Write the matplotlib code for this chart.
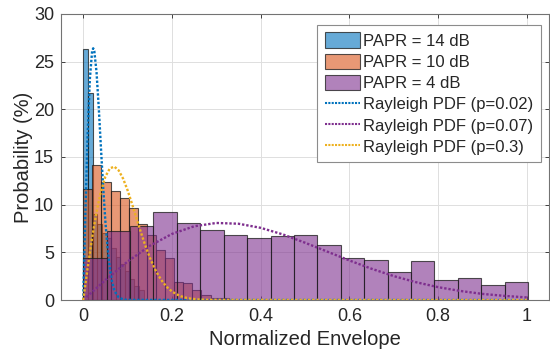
import numpy as np
import matplotlib
matplotlib.use("Agg")
import matplotlib.pyplot as plt
from matplotlib.patches import Patch
from matplotlib.lines import Line2D

plt.rcParams['font.family'] = ['Liberation Sans', 'DejaVu Sans']

# ---------------- data ----------------
# PAPR = 14 dB histogram (bin width ~0.0105, starts at 0)
blue_start, blue_width = 0.0, 0.0105
blue_vals = [26.3, 21.7, 9.0, 8.0, 7.0, 6.5, 5.5, 4.5, 3.8, 3.0, 2.2, 1.5, 1.0]

# PAPR = 10 dB histogram (bin width ~0.0205)
orange_start, orange_width = 0.0, 0.0205
orange_vals = [11.6, 14.2, 12.4, 11.4, 10.7, 9.6, 8.0, 6.8, 5.2, 4.4,
               1.9, 1.75, 1.05, 0.5, 0.25, 0.25]

# PAPR = 4 dB histogram (19 bins over 0..1.003)
purple_start, purple_width = 0.0, 0.0528
purple_vals = [4.4, 7.2, 7.8, 9.27, 8.05, 7.35, 6.82, 6.54, 6.75, 6.82,
               5.77, 4.37, 4.2, 2.9, 4.09, 2.1, 2.27, 1.57, 1.92]

# Rayleigh PDF curves
c1_x = [0, 0.005, 0.01, 0.015, 0.02, 0.0225, 0.025, 0.03, 0.035, 0.04, 0.045,
        0.05, 0.055, 0.06, 0.065, 0.07, 0.075, 0.08, 0.09, 0.1, 1.0]
c1_y = [0, 9.4, 17.5, 23.2, 26.1, 26.4, 26.1, 23.9, 20.2, 15.9, 11.8,
        8.2, 5.4, 3.3, 1.9, 1.07, 0.56, 0.28, 0.06, 0.01, 0]

c2_x = [0, 0.05, 0.10, 0.15, 0.20, 0.25, 0.30, 0.35, 0.40, 0.45, 0.50,
        0.55, 0.60, 0.65, 0.70, 0.75, 0.80, 0.85, 0.90, 0.95, 1.00]
c2_y = [0, 2.09, 4.03, 5.68, 6.93, 7.73, 8.08, 8.0, 7.57, 6.88, 6.01,
        5.08, 4.15, 3.28, 2.51, 1.87, 1.35, 0.95, 0.64, 0.43, 0.27]

c3_x = [0, 0.01, 0.02, 0.03, 0.04, 0.05, 0.06, 0.07, 0.08, 0.09, 0.10,
        0.11, 0.12, 0.13, 0.14, 0.15, 0.16, 0.17, 0.18, 0.19, 0.20,
        0.21, 0.22, 0.23, 0.24, 0.26, 0.28, 1.0]
c3_y = [0, 3.36, 6.50, 9.24, 11.42, 12.95, 13.80, 13.99, 13.59, 12.72, 11.51,
        10.09, 8.58, 7.10, 5.71, 4.47, 3.41, 2.54, 1.84, 1.30, 0.90,
        0.61, 0.40, 0.26, 0.16, 0.06, 0.02, 0]

hist_labels = ['PAPR = 14 dB', 'PAPR = 10 dB', 'PAPR = 4 dB']
curve_labels = ['Rayleigh PDF (p=0.02)', 'Rayleigh PDF (p=0.07)', 'Rayleigh PDF (p=0.3)']

x_ticks = [0, 0.2, 0.4, 0.6, 0.8, 1]
x_ticklabels = ['0', '0.2', '0.4', '0.6', '0.8', '1']
y_ticks = [0, 5, 10, 15, 20, 25, 30]

# ---------------- styling ----------------
c_blue = (0.0, 0.447, 0.741)
c_orange = (0.850, 0.325, 0.098)
c_purple = (0.494, 0.184, 0.556)
c_yellow = (0.929, 0.694, 0.125)
face_alpha = 0.6
edge_col = (0.1, 0.1, 0.1, 0.75)
axc = (0.15, 0.15, 0.15)

fig = plt.figure(figsize=(5.5, 3.58), dpi=100)
ax = fig.add_axes([0.111, 0.162, 0.887, 0.799])

def draw_hist(start, width, vals, color):
    lefts = start + width * np.arange(len(vals))
    ax.bar(lefts, vals, width=width, align='edge',
           facecolor=(*color, face_alpha), edgecolor=edge_col, linewidth=0.8,
           zorder=2)

draw_hist(blue_start, blue_width, blue_vals, c_blue)
draw_hist(orange_start, orange_width, orange_vals, c_orange)
draw_hist(purple_start, purple_width, purple_vals, c_purple)

dot = (0, (1, 0.8))
ax.plot(c1_x, c1_y, color=c_blue, lw=1.7, ls=dot, zorder=3)
ax.plot(c2_x, c2_y, color=c_purple, lw=1.7, ls=dot, zorder=3)
ax.plot(c3_x, c3_y, color=c_yellow, lw=1.7, ls=dot, zorder=3)

ax.set_xlim(-0.05, 1.05)
ax.set_ylim(0, 30)
ax.set_xticks(x_ticks)
ax.set_xticklabels(x_ticklabels)
ax.set_yticks(y_ticks)
ax.grid(True, color=(0.87, 0.87, 0.87), linewidth=0.7, zorder=0)
ax.set_axisbelow(True)
ax.tick_params(direction='in', length=3, width=0.6, colors=axc,
               labelsize=13, top=True, right=True)
ax.tick_params(axis='x', pad=6)
ax.tick_params(axis='y', pad=5)
for s in ax.spines.values():
    s.set_color((0.45, 0.45, 0.45))
    s.set_linewidth(0.8)
ax.set_xlabel('Normalized Envelope', fontsize=14.5, color=axc, labelpad=3)
ax.set_ylabel('Probability (%)', fontsize=14.5, color=axc, labelpad=1)

handles = [
    Patch(facecolor=(*c_blue, face_alpha), edgecolor=edge_col, linewidth=0.8),
    Patch(facecolor=(*c_orange, face_alpha), edgecolor=edge_col, linewidth=0.8),
    Patch(facecolor=(*c_purple, face_alpha), edgecolor=edge_col, linewidth=0.8),
    Line2D([], [], color=c_blue, lw=1.5, ls=(0, (1, 0.6))),
    Line2D([], [], color=c_purple, lw=1.5, ls=(0, (1, 0.6))),
    Line2D([], [], color=c_yellow, lw=1.5, ls=(0, (1, 0.6))),
]
leg = ax.legend(handles, hist_labels + curve_labels, loc='upper right',
                bbox_to_anchor=(0.983, 0.962), fontsize=12,
                handlelength=2.1, handleheight=1.05, handletextpad=0.2,
                labelspacing=0.29, borderpad=0.45, borderaxespad=0.0,
                fancybox=False, framealpha=1, edgecolor=(0.55, 0.55, 0.55))
leg.get_frame().set_linewidth(0.8)
for t in leg.get_texts():
    t.set_color(axc)

fig.savefig('out.png', dpi=100)
